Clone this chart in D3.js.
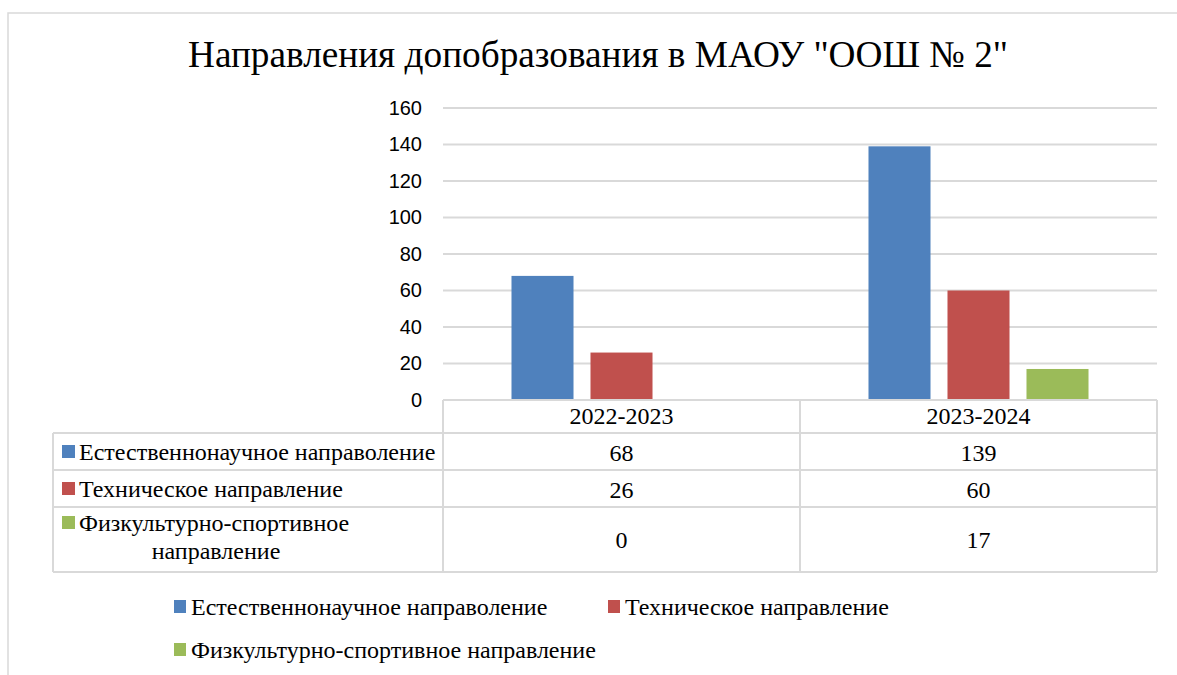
<!DOCTYPE html>
<html>
<head>
<meta charset="utf-8">
<script src="https://cdn.jsdelivr.net/npm/d3@7"></script>
<style>
  body { margin: 0; background: #fff; }
  svg { display: block; }
</style>
</head>
<body>
<svg width="1177" height="675"></svg>
<script>
// data
var categories = ["2022-2023", "2023-2024"];
var seriesNames = ["Естественнонаучное направоление", "Техническое направление", "Физкультурно-спортивное направление"];
var natural = [68, 139];
var technical = [26, 60];
var sport = [0, 17];
var yTicks = [0, 20, 40, 60, 80, 100, 120, 140, 160];
var colors = ["#4f81bd", "#c0504d", "#9bbb59"];

var seriesValues = [natural, technical, sport];
var rows = seriesNames.map(function(name, i) {
  return {name: name, color: colors[i], values: seriesValues[i]};
});

var svg = d3.select("svg");
var serif = "Liberation Serif";
var sans = "Liberation Sans";
var gridColor = "#d9d9d9";
var fontSize = 24;

// chart frame
svg.append("rect")
    .attr("x", 8).attr("y", 13)
    .attr("width", 1190).attr("height", 700)
    .attr("fill", "#fff")
    .attr("stroke", gridColor)
    .attr("stroke-width", 1.5);

// title
svg.append("text")
    .attr("x", 598).attr("y", 67)
    .attr("text-anchor", "middle")
    .style("font-family", serif)
    .style("font-size", "38px")
    .attr("textLength", 820)
    .attr("lengthAdjust", "spacingAndGlyphs")
    .text('Направления допобразования в МАОУ "ООШ № 2"');

var plot = {left: 443, right: 1157, top: 108, bottom: 400};

var x0 = d3.scaleBand().domain(categories).range([plot.left, plot.right]).padding(0);
var x1 = d3.scaleBand().domain(seriesNames).range([0, x0.bandwidth()])
    .paddingInner(0.215).paddingOuter(0.867);
var y = d3.scaleLinear().domain([0, 160]).range([plot.bottom, plot.top]);

// gridlines
svg.append("g")
  .selectAll("line")
  .data(yTicks.filter(function(d) { return d > 0; }))
  .enter()
  .append("line")
    .attr("x1", plot.left).attr("x2", plot.right)
    .attr("y1", function(d) { return y(d); })
    .attr("y2", function(d) { return y(d); })
    .attr("stroke", gridColor)
    .attr("stroke-width", 2);

// y axis labels
var yAxis = svg.append("g")
    .attr("transform", "translate(" + (plot.left - 21) + ",0)")
    .call(d3.axisLeft(y).tickValues(yTicks).tickSize(0).tickPadding(0));
yAxis.select(".domain").remove();
yAxis.selectAll("text")
    .style("font-family", sans)
    .style("font-size", "20px")
    .attr("fill", "#000");

// bars
var groups = svg.append("g")
  .selectAll("g")
  .data(rows)
  .enter()
  .append("g")
    .attr("fill", function(d) { return d.color; });

groups.selectAll("rect")
  .data(function(d) {
    return d.values.map(function(v, i) { return {name: d.name, cat: categories[i], value: v}; });
  })
  .enter()
  .append("rect")
    .attr("x", function(d) { return x0(d.cat) + x1(d.name); })
    .attr("y", function(d) { return y(d.value); })
    .attr("width", x1.bandwidth())
    .attr("height", function(d) { return y(0) - y(d.value); });

// data table
var rowLines = [400, 433, 470, 507, 572];
var tableLeft = 53;
var table = svg.append("g")
    .attr("stroke", gridColor)
    .attr("stroke-width", 2)
    .attr("fill", "none");

table.append("line")
    .attr("x1", plot.left).attr("x2", plot.right)
    .attr("y1", rowLines[0]).attr("y2", rowLines[0]);
rowLines.slice(1).forEach(function(yy) {
  table.append("line")
      .attr("x1", tableLeft).attr("x2", plot.right)
      .attr("y1", yy).attr("y2", yy);
});
table.append("line")
    .attr("x1", tableLeft).attr("x2", tableLeft)
    .attr("y1", rowLines[1]).attr("y2", rowLines[4]);
categories.concat([null]).forEach(function(c) {
  var xx = c === null ? plot.right : x0(c);
  table.append("line")
      .attr("x1", xx).attr("x2", xx)
      .attr("y1", rowLines[0]).attr("y2", rowLines[4]);
});

function serifText(sel) {
  return sel.style("font-family", serif).style("font-size", fontSize + "px").attr("fill", "#000");
}

// category headers
serifText(svg.append("g")
  .selectAll("text")
  .data(categories)
  .enter()
  .append("text")
    .attr("x", function(d) { return x0(d) + x0.bandwidth() / 2; })
    .attr("y", 424)
    .attr("text-anchor", "middle")
    .text(function(d) { return d; }));

// row values
var rowBaselines = [461, 498, 548];
rows.forEach(function(r, i) {
  serifText(svg.append("g")
    .selectAll("text")
    .data(r.values)
    .enter()
    .append("text")
      .attr("x", function(d, j) { return x0(categories[j]) + x0.bandwidth() / 2; })
      .attr("y", rowBaselines[i])
      .attr("text-anchor", "middle")
      .text(function(d) { return d; }));
});

// row labels with legend keys
var labelLines = [
  [{t: "Естественнонаучное направоление", y: 460}],
  [{t: "Техническое направление", y: 497}],
  [{t: "Физкультурно-спортивное", y: 531}, {t: "направление", y: 559, center: 216}]
];
rows.forEach(function(r, i) {
  var lines = labelLines[i];
  svg.append("rect")
      .attr("x", 62).attr("y", lines[0].y - 15)
      .attr("width", 13).attr("height", 13)
      .attr("fill", r.color);
  lines.forEach(function(l) {
    serifText(svg.append("text")
        .attr("x", l.center ? l.center : 79)
        .attr("y", l.y)
        .attr("text-anchor", l.center ? "middle" : "start")
        .text(l.t));
  });
});

// legend
var legendPos = [{x: 174, y: 615}, {x: 608, y: 615}, {x: 174, y: 658}];
var legend = svg.append("g")
  .selectAll("g")
  .data(rows)
  .enter()
  .append("g")
    .attr("transform", function(d, i) { return "translate(" + legendPos[i].x + "," + legendPos[i].y + ")"; });
legend.append("rect")
    .attr("x", 0).attr("y", -15)
    .attr("width", 12).attr("height", 13)
    .attr("fill", function(d) { return d.color; });
serifText(legend.append("text")
    .attr("x", 17)
    .text(function(d) { return d.name; }));
</script>
</body>
</html>
